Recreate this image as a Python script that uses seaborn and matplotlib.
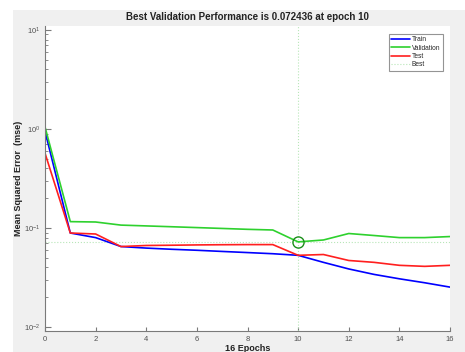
import pandas as pd
import matplotlib.pyplot as plt
import seaborn as sns
from matplotlib.patches import Rectangle

sns.set_style("white")
plt.rcParams['font.family'] = ['Liberation Sans', 'DejaVu Sans']

# --- DADOS ---
epochs = list(range(17))
train = [0.95, 0.089, 0.080, 0.065, 0.0627, 0.061, 0.0596, 0.058, 0.0565, 0.055,
         0.053, 0.045, 0.0386, 0.034, 0.0307, 0.028, 0.0253]
validation = [1.05, 0.116, 0.115, 0.107, 0.105, 0.103, 0.101, 0.099, 0.097, 0.0955,
              0.072436, 0.0757, 0.088, 0.084, 0.080, 0.080, 0.082]
test = [0.57, 0.089, 0.087, 0.065, 0.0666, 0.067, 0.0675, 0.0678, 0.068, 0.068,
        0.053, 0.054, 0.047, 0.045, 0.042, 0.041, 0.042]
best_epoch = 10
best_perf = 0.072436

df = pd.DataFrame({"epoch": epochs, "Train": train, "Validation": validation, "Test": test})

fig = plt.figure(figsize=(4.65, 3.52), dpi=100)
fig.patch.set_facecolor("white")
# painel cinza estilo MATLAB
fig.add_artist(Rectangle((13 / 465, 0), 1, 1 - 10 / 352, transform=fig.transFigure,
                         facecolor="#f0f0f0", edgecolor="none", zorder=0))

ax = fig.add_axes([45 / 465, 21 / 352, 405 / 465, 305 / 352])
ax.set_facecolor("white")

sns.lineplot(data=df, x="epoch", y="Train", color="#0000ff", lw=1.2, label="Train", ax=ax)
sns.lineplot(data=df, x="epoch", y="Validation", color="#2ed12e", lw=1.2, label="Validation", ax=ax)
sns.lineplot(data=df, x="epoch", y="Test", color="#ff1f1f", lw=1.2, label="Test", ax=ax)

# linhas do melhor resultado
ax.axhline(best_perf, color="#b8e6b8", lw=0.8, ls=":", label="Best", zorder=1)
ax.axvline(best_epoch, color="#b8e6b8", lw=0.8, ls=":", zorder=1)
ax.plot([best_epoch], [best_perf], marker="o", ms=8, mfc="none", mec="#1a8f1a", mew=1.0, zorder=5)

ax.set_yscale("log")
ax.set_xlim(0, 16)
ax.set_ylim(10 ** -2.04, 10 ** 1.04)
ax.set_xticks(range(0, 17, 2))
ax.set_yticks([0.01, 0.1, 1, 10])

for s in ["top", "right"]:
    ax.spines[s].set_visible(False)
for s in ["left", "bottom"]:
    ax.spines[s].set_color("#7a7a7a")
    ax.spines[s].set_linewidth(0.8)

ax.tick_params(axis="both", which="both", direction="in", colors="#7a7a7a",
               labelcolor="#505050", labelsize=5.5, left=True, bottom=True)
ax.tick_params(axis="y", which="major", length=4)
ax.tick_params(axis="y", which="minor", length=2)
ax.tick_params(axis="x", which="major", length=3)

ax.set_title("Best Validation Performance is 0.072436 at epoch 10",
             fontsize=7, fontweight="bold", color="#222222", pad=4)
ax.set_xlabel("16 Epochs", fontsize=6.5, fontweight="bold", color="#222222", labelpad=1)
ax.set_ylabel("Mean Squared Error  (mse)", fontsize=6.5, fontweight="bold", color="#222222", labelpad=0)
ax.yaxis.set_label_coords(-0.055, 0.5)

leg = ax.legend(loc="upper right", fontsize=4.8, frameon=True, fancybox=False,
                handlelength=2.8, handletextpad=0.3, labelspacing=0.2,
                borderpad=0.35, bbox_to_anchor=(0.99, 0.985))
leg.get_frame().set_edgecolor("#7a7a7a")
leg.get_frame().set_linewidth(0.8)

plt.savefig("out.png", dpi=100)
plt.close()
print("Gráfico salvo!")
